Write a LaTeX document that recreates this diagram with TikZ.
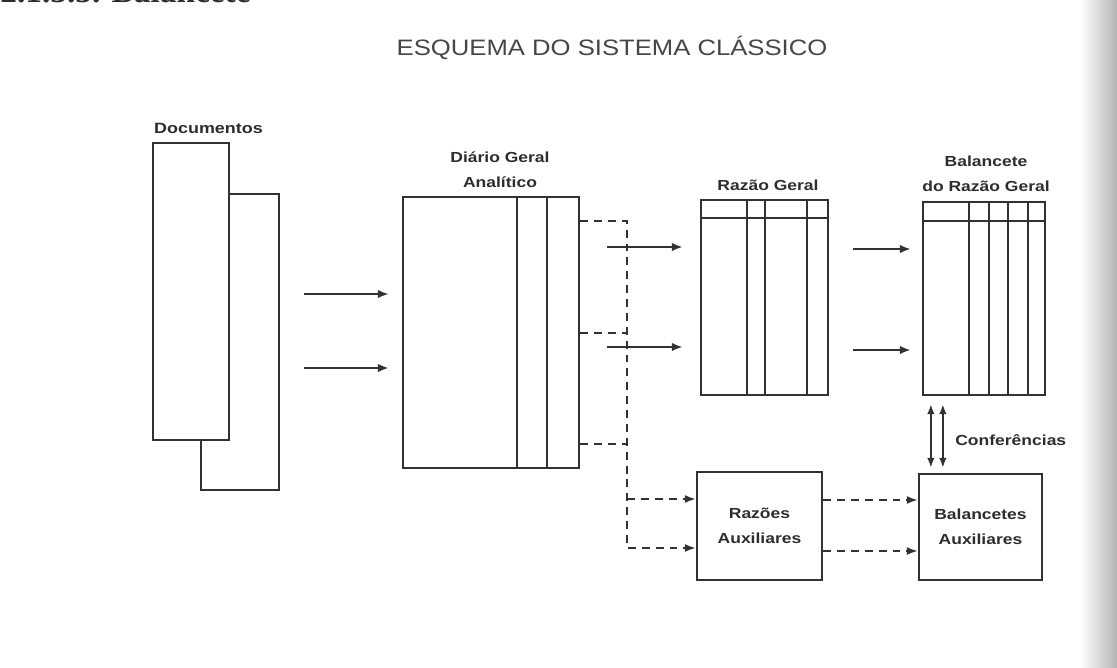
\documentclass[tikz,border=0pt]{standalone}
\usepackage{fontspec}
\setmainfont{Liberation Sans}
\newfontfamily\labelfont[FakeStretch=1.2]{Liberation Sans}
\newfontfamily\titlefont[FakeStretch=1.15]{Liberation Sans}
\newfontfamily\headfont{Liberation Serif}
\usetikzlibrary{arrows.meta, positioning, calc}
\definecolor{ScanInk}{RGB}{50, 50, 50}
\definecolor{ScanText}{RGB}{45, 45, 45}
\definecolor{ScanTitle}{RGB}{70, 70, 70}
\definecolor{ScanEdge}{RGB}{180, 180, 180}

\tikzset{
  ledger/.style={draw=ScanInk, line width=1.3pt, fill=white, inner sep=0pt},
  rule/.style={draw=ScanInk, line width=1.3pt},
  lbl/.style={text=ScanText, font=\labelfont\fontsize{8.3}{14}\selectfont\bfseries,
              align=center, inner sep=0pt},
  flow/.style={draw=ScanInk, line width=1.4pt, -{Latex[length=2.2mm,width=1.7mm]}},
  bus/.style={draw=ScanInk, line width=1.1pt, dash pattern=on 4.5pt off 3.4pt},
  busflow/.style={bus, -{Latex[length=2.2mm,width=1.6mm]}},
  check/.style={draw=ScanInk, line width=1.3pt,
                {Latex[length=2mm,width=1.5mm]}-{Latex[length=2mm,width=1.5mm]},
                shorten <=0.16cm, shorten >=0.1cm}
}

\begin{document}
\begin{tikzpicture}[x=0.02cm, y=-0.02cm]
  \useasboundingbox (0,0) rectangle (1117,667);
  \fill[left color=white, right color=ScanEdge] (1080,0) rectangle (1117,667);

  \node[anchor=base west, text=ScanText, font=\headfont\fontsize{19}{22}\selectfont\bfseries,
        inner sep=0pt] (head) at (0,2) {2.1.3.3. Balancete};
  \node[text=ScanTitle, font=\titlefont\fontsize{12.7}{15}\selectfont, inner sep=0pt]
        (title) at (612,48) {ESQUEMA DO SISTEMA CLÁSSICO};

  % documentos
  \node[ledger, minimum width=1.56cm, minimum height=5.92cm] (docB) at (240,342) {};
  \node[ledger, minimum width=1.52cm, minimum height=5.94cm] (docA) at (191,291.5) {};
  \node[lbl, font=\labelfont\fontsize{8.5}{14}\selectfont\bfseries,
        above right=1.6mm and 0.4mm of docA.north west] (docLbl) {Documentos};

  % diario
  \node[ledger, minimum width=3.52cm, minimum height=5.42cm] (diario) at (491,332.5) {};
  \foreach \cx in {517,547}
    \draw[rule] (\cx,0 |- diario.north) -- (\cx,0 |- diario.south);
  \node[lbl, above=1.6mm of diario.north, xshift=0.18cm] (diarioLbl) {Diário Geral\\Analítico};

  % razao geral
  \node[ledger, minimum width=2.54cm, minimum height=3.9cm] (razao) at (764.5,297.5) {};
  \draw[rule] (razao.west |- 0,218) -- (razao.east |- 0,218);
  \foreach \cx in {747,765,807}
    \draw[rule] (\cx,0 |- razao.north) -- (\cx,0 |- razao.south);
  \node[lbl, above=1.6mm of razao.north, xshift=0.07cm] (razaoLbl) {Razão Geral};

  % balancete do razao geral
  \node[ledger, minimum width=2.44cm, minimum height=3.86cm] (balRG) at (984,298.5) {};
  \draw[rule] (balRG.west |- 0,221) -- (balRG.east |- 0,221);
  \foreach \cx in {969,989,1008,1028}
    \draw[rule] (\cx,0 |- balRG.north) -- (\cx,0 |- balRG.south);
  \node[lbl, above=1.8mm of balRG.north, xshift=0.04cm] (balRGLbl) {Balancete\\do Razão Geral};

  % auxiliares
  \node[ledger, lbl, minimum width=2.5cm, minimum height=2.16cm] (razAux) at (759.5,526)
        {Razões\\Auxiliares};
  \node[ledger, lbl, minimum width=2.46cm, minimum height=2.12cm] (balAux) at (980.5,527)
        {Balancetes\\Auxiliares};

  % setas
  \foreach \ry in {294,368}
    \draw[flow, shorten <=0.48cm, shorten >=0.26cm] (docB.east |- 0,\ry) -- (diario.west |- 0,\ry);
  \foreach \ry in {247,347}
    \draw[flow, shorten <=0.54cm, shorten >=0.34cm] (diario.east |- 0,\ry) -- (razao.west |- 0,\ry);
  \foreach \ry in {249,350}
    \draw[flow, shorten <=0.48cm, shorten >=0.22cm] (razao.east |- 0,\ry) -- (balRG.west |- 0,\ry);

  \coordinate (busTop) at (627,221);
  \coordinate (busBot) at (627,548);
  \draw[busflow] (diario.east |- busTop) -- (busTop) -- (busBot) -- (razAux.west |- busBot);
  \foreach \ry in {333,444}
    \draw[bus] (diario.east |- 0,\ry) -- (busTop |- 0,\ry);
  \draw[busflow] (busTop |- 0,499) -- (razAux.west |- 0,499);
  \foreach \ry in {500,551}
    \draw[busflow] (razAux.east |- 0,\ry) -- (balAux.west |- 0,\ry);

  \draw[check] ([xshift=0.18cm]balRG.south west) -- ([xshift=0.18cm]balRG.south west |- balAux.north);
  \draw[check] ([xshift=0.42cm]balRG.south west) -- ([xshift=0.42cm]balRG.south west |- balAux.north);
  \node[lbl, anchor=west] (conf) at (955,440) {Conferências};
\end{tikzpicture}
\end{document}
